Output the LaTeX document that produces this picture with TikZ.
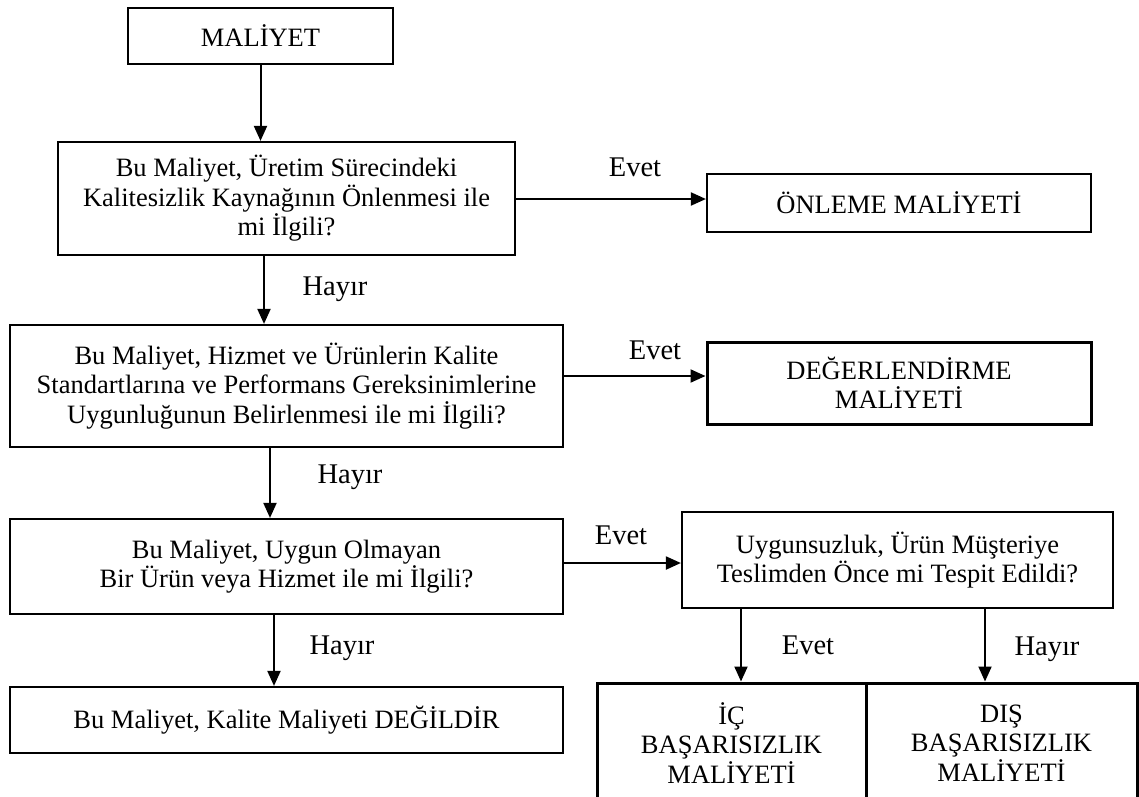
\documentclass[tikz,border=0pt]{standalone}
\usepackage{fontspec}
\setmainfont{Liberation Serif}
\usetikzlibrary{arrows.meta}
\newcommand\boxfont{\fontsize{26.5}{29.5}\selectfont}
\newcommand\labfont{\fontsize{28.5}{30}\selectfont}
\begin{document}
\begin{tikzpicture}[x=1pt,y=-1pt,
  box/.style={draw, line width=2.2pt, align=center, inner sep=0pt, font=\boxfont},
  heavybox/.style={box, line width=3pt},
  arr/.style={line width=2pt, -{Triangle[length=15pt,width=13pt]}},
  lab/.style={inner sep=0pt, font=\labfont}]
\clip (0,0) rectangle (1139,796);
\fill[white] (0,0) rectangle (1139,796);

% decision chain on the left
\node[box, minimum width=265pt, minimum height=56pt] (A) at (260.5,36) {MALİYET};
\node[box, minimum width=457pt, minimum height=113pt] (B) at (286.5,198.5)
  {Bu Maliyet, Üretim Sürecindeki\\Kalitesizlik Kaynağının Önlenmesi ile\\mi İlgili?};
\node[box, minimum width=553pt, minimum height=122pt] (D) at (286.5,386)
  {Bu Maliyet, Hizmet ve Ürünlerin Kalite\\Standartlarına ve Performans Gereksinimlerine\\Uygunluğunun Belirlenmesi ile mi İlgili?};
\node[box, minimum width=553pt, minimum height=95pt] (F) at (286.5,566.5)
  {Bu Maliyet, Uygun Olmayan\\Bir Ürün veya Hizmet ile mi İlgili?};
\node[box, minimum width=553pt, minimum height=66pt] (H) at (286.5,720)
  {Bu Maliyet, Kalite Maliyeti DEĞİLDİR};

% outcomes on the right
\node[box, minimum width=384pt, minimum height=58pt] (C) at (899,203) {ÖNLEME MALİYETİ};
\node[heavybox, minimum width=384pt, minimum height=82pt] (E) at (899,383)
  {DEĞERLENDİRME\\MALİYETİ};
\node[box, minimum width=431pt, minimum height=96pt] (G) at (897.5,560)
  {Uygunsuzluk, Ürün Müşteriye\\Teslimden Önce mi Tespit Edildi?};
\node[heavybox, minimum width=269pt, minimum height=120pt] (I) at (731.5,743)
  {İÇ\\BAŞARISIZLIK\\MALİYETİ};
\node[heavybox, minimum width=271pt, minimum height=120pt] (J) at (1001.5,743)
  {DIŞ\\BAŞARISIZLIK\\MALİYETİ};

% lines along which the connectors run
\coordinate (xBD) at (264,0);
\coordinate (xDF) at (270,0);
\coordinate (xFH) at (274,0);
\coordinate (xGI) at (741,0);
\coordinate (xGJ) at (985,0);
\coordinate (yBC) at (0,199);
\coordinate (yDE) at (0,376);
\coordinate (yFG) at (0,563);

% connectors
\draw[arr] (A.south) -- (A.south |- B.north);
\draw[arr] (B.east |- yBC) -- (C.west |- yBC);
\draw[arr] (B.south -| xBD) -- (D.north -| xBD);
\draw[arr] (D.east |- yDE) -- (E.west |- yDE);
\draw[arr] (D.south -| xDF) -- (F.north -| xDF);
\draw[arr] (F.east |- yFG) -- (G.west |- yFG);
\draw[arr] (F.south -| xFH) -- (H.north -| xFH);
\draw[arr] (G.south -| xGI) -- (I.north -| xGI);
\draw[arr] (G.south -| xGJ) -- (J.north -| xGJ);

% branch labels
\node[lab] (l1) at (635,167) {Evet};
\node[lab] (l2) at (335,289) {Hayır};
\node[lab] (l3) at (655,350) {Evet};
\node[lab] (l4) at (350,477) {Hayır};
\node[lab] (l5) at (621,535) {Evet};
\node[lab] (l6) at (342,648) {Hayır};
\node[lab] (l7) at (808,645) {Evet};
\node[lab] (l8) at (1047,649) {Hayır};
\end{tikzpicture}
\end{document}
